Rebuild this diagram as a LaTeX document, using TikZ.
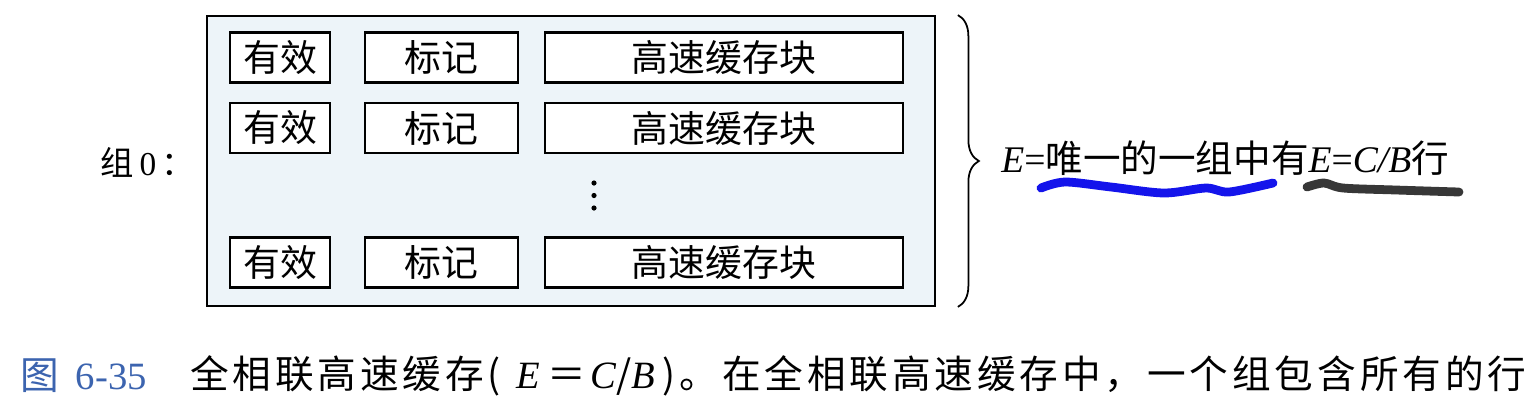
\documentclass[tikz,border=0pt]{standalone}
\usepackage{fontspec}
\setmainfont{Noto Sans CJK SC}
\newfontfamily\lat{Liberation Serif}
\newfontfamily\capfont[LetterSpace=10]{Noto Sans CJK SC}
\usetikzlibrary{decorations.pathreplacing}
\definecolor{setfill}{RGB}{237,244,249}
\definecolor{capblue}{RGB}{60,100,175}
\definecolor{penblue}{RGB}{20,20,235}
\definecolor{pengray}{RGB}{55,55,55}

\begin{document}
\begin{tikzpicture}[x=0.02cm, y=-0.02cm,
    cell/.style={draw, line width=1.2pt, fill=white, minimum height=1cm, inner sep=0pt, font=\fontsize{21}{24}\selectfont}]
    \useasboundingbox (0,0) rectangle (1536,414);
    % the one set
    \node [draw, line width=1.1pt, fill=setfill, minimum width=14.56cm, minimum height=5.8cm, inner sep=0pt] (set) at (571,161) {};
    \node [right, inner sep=0pt, font=\fontsize{19}{22}\selectfont] (grp) at (100,162) {组\hspace{0.12cm}{\lat 0}\hspace{0.1cm}：};
    % lines
    \node [cell, minimum width=2cm] (v1) at (280,57.5) {有效};
    \node [cell, minimum width=3.06cm] (t1) at (441.5,57.5) {标记};
    \node [cell, minimum width=7.16cm] (b1) at (724,57.5) {高速缓存块};
    \node [cell, minimum width=2cm] (v2) at (280,128) {有效};
    \node [cell, minimum width=3.06cm] (t2) at (441.5,128) {标记};
    \node [cell, minimum width=7.16cm] (b2) at (724,128) {高速缓存块};
    \node [cell, minimum width=2cm] (v3) at (280,262.5) {有效};
    \node [cell, minimum width=3.06cm] (t3) at (441.5,262.5) {标记};
    \node [cell, minimum width=7.16cm] (b3) at (724,262.5) {高速缓存块};
    % vdots
    \fill (594,183) circle [radius=2.6];
    \fill (594,195.5) circle [radius=2.6];
    \fill (594,208) circle [radius=2.6];
    % brace + note
    \draw [decorate, decoration={brace, amplitude=0.42cm}, line width=1pt] ([xshift=0.44cm]set.north east) -- ([xshift=0.44cm]set.south east);
    \node [right, inner sep=0pt, font=\fontsize{21.4}{24}\selectfont] (rows) at (1001,158) {{\lat\itshape E}{\lat =}唯一的一组中有{\lat\itshape E}{\lat =}{\lat\itshape C/B}行};
    \draw [penblue, line width=5pt, line cap=round] plot [smooth] coordinates {(1041,188) (1065,182) (1111,187) (1164,193) (1206,188) (1229,192) (1273,183)};
    \draw [pengray, line width=5pt, line cap=round] plot [smooth] coordinates {(1307,187) (1324,183) (1343,188) (1396,190) (1459,192)};
    % caption
    \node [right, inner sep=0pt, text=capblue, font=\fontsize{22}{26}\selectfont] (fig) at (20,376) {图\hspace{0.34cm}{\lat 6-35}};
    \node [right, inner sep=0pt, font=\capfont\fontsize{22}{26}\selectfont] (cap) at (190,376) {全相联高速缓存(\hspace{0.3cm}{\lat\itshape E}\hspace{0.15cm}＝\hspace{0.1cm}{\lat\itshape C}/{\lat\itshape B}\hspace{0.15cm})。在全相联高速缓存中，一个组包含所有的行};
\end{tikzpicture}
\end{document}
